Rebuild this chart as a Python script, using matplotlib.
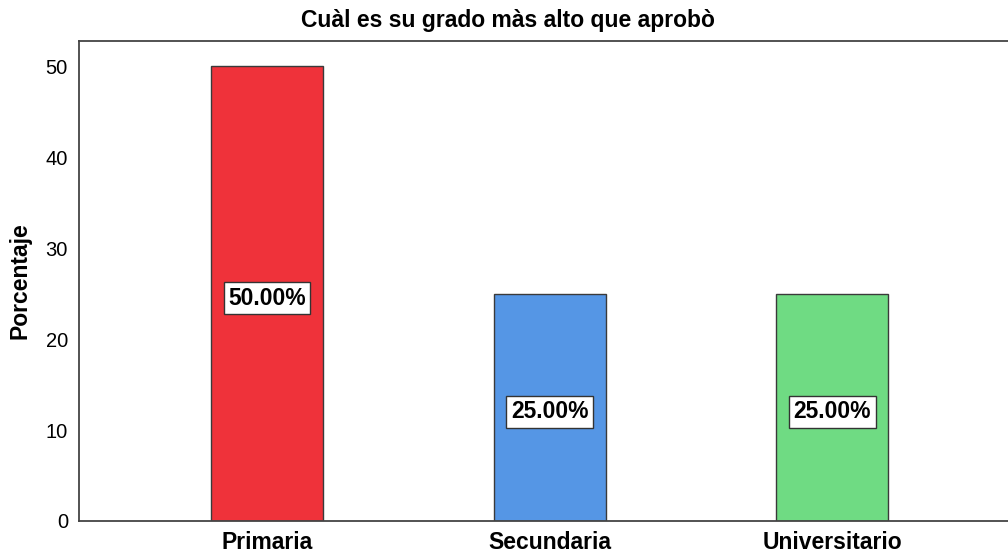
import matplotlib.pyplot as plt

plt.rcParams['font.family'] = ['Liberation Sans', 'DejaVu Sans']

# datos del grafico
categorias = ['Primaria', 'Secundaria', 'Universitario']
porcentajes = [50.0, 25.0, 25.0]
colores = ['#EF323A', '#5596E5', '#6FDB83']

fig = plt.figure(figsize=(10.08, 5.54), dpi=100)
ax = fig.add_axes([79 / 1008, 1 - 521 / 554, 1 - 79 / 1008, (521 - 41) / 554])

x = range(len(categorias))
ax.bar(x, porcentajes, width=0.396, color=colores, edgecolor='#3a3a3a', linewidth=1.0, zorder=2)

# etiquetas de porcentaje a media altura de cada barra
for xi, v in zip(x, porcentajes):
    ax.text(xi, v / 2 - 0.5, '%.2f%%' % v, ha='center', va='center', fontsize=16.5,
            fontweight='bold', zorder=3,
            bbox=dict(boxstyle='square,pad=0.2', facecolor='white', edgecolor='#333333', linewidth=1.0))

ax.set_xlim(-0.665, 2.622)
ax.set_ylim(0, 52.75)
ax.set_yticks([0, 10, 20, 30, 40, 50])
ax.set_xticks(list(x))
ax.set_xticklabels(categorias, fontsize=16.5, fontweight='bold')
ax.tick_params(axis='both', length=0)
ax.tick_params(axis='y', labelsize=14.5, pad=8)
ax.tick_params(axis='x', pad=7)
ax.set_ylabel('Porcentaje', fontsize=16.5, fontweight='bold', labelpad=10)

for s in ['left', 'bottom', 'top']:
    ax.spines[s].set_color('#444444')
    ax.spines[s].set_linewidth(1.3)
ax.spines['right'].set_visible(False)

fig.text(508 / 1008, 1 - 20 / 554, 'Cuàl es su grado màs alto que aprobò', ha='center', va='center',
         fontsize=16.5, fontweight='bold')

fig.savefig('out.png', dpi=100)
